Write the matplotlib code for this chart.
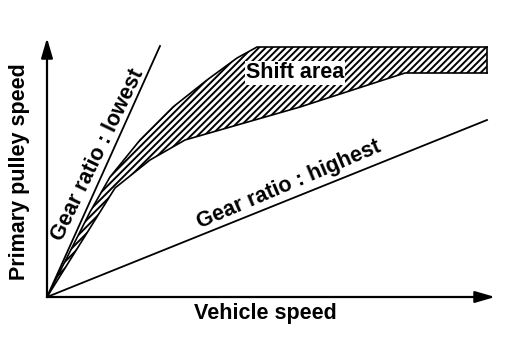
import matplotlib
matplotlib.use("Agg")
import numpy as np
from matplotlib import pyplot as plt

# Shift diagram of a CVT: primary pulley speed against vehicle speed
# (arbitrary units, origin at the bottom left corner)
lowest_v = [0, 113]
lowest_p = [0, 251]
highest_v = [0, 440]
highest_p = [0, 177]

# boundaries of the shift area
upper_v = [0, 43, 63, 93, 126, 160, 190, 210, 440]
upper_p = [0, 85, 120, 157, 190, 217, 239, 250, 250]
lower_v = [0, 68, 103, 138, 253, 358, 440]
lower_p = [0, 109, 137, 157, 190, 224, 224]

x_axis_end = 448
y_axis_end = 259

plt.rcParams['font.family'] = ['Liberation Sans', 'DejaVu Sans']
plt.rcParams['hatch.linewidth'] = 1.4

fig = plt.figure(figsize=(5.12, 3.64), dpi=100)
ax = fig.add_axes([0, 0, 1, 1])
ax.set_xlim(-47, 465)
ax.set_ylim(-67, 297)
ax.axis('off')

# shift area polygon
poly_v = upper_v + lower_v[::-1]
poly_p = upper_p + lower_p[::-1]
ax.fill(poly_v, poly_p, facecolor='white', edgecolor='black', hatch='/////', linewidth=0)
ax.plot(upper_v, upper_p, color='black', lw=1.2)
ax.plot(lower_v, lower_p, color='black', lw=1.2)
ax.plot([upper_v[-1], lower_v[-1]], [upper_p[-1], lower_p[-1]], color='black', lw=1.2)

ax.plot(lowest_v, lowest_p, color='black', lw=1.3)
ax.plot(highest_v, highest_p, color='black', lw=1.3)

# axes with arrow heads
arrow = dict(arrowstyle='-|>,head_length=1.2,head_width=0.35', color='black', lw=1.6,
             shrinkA=0, shrinkB=0)
ax.annotate('', xy=(0, y_axis_end), xytext=(0, 0), arrowprops=arrow)
ax.annotate('', xy=(x_axis_end, 0), xytext=(0, 0), arrowprops=arrow)

fs = 15.5
fw = 'bold'
ax.text(218, -17, 'Vehicle speed', fontsize=fs, weight=fw, ha='center', va='center')
ax.text(-27, 125, 'Primary pulley speed', fontsize=fs, weight=fw, ha='center', va='center',
        rotation=90)

ang_low = np.degrees(np.arctan2(251 * 1.0, 113))
ax.text(51, 142, 'Gear ratio : lowest', fontsize=fs, weight=fw, ha='center', va='center',
        rotation=ang_low - 1.5)
ax.text(242, 112, 'Gear ratio : highest', fontsize=fs, weight=fw, ha='center', va='center',
        rotation=23)

ax.text(248, 224, 'Shift area', fontsize=fs, weight=fw, ha='center', va='center',
        bbox=dict(facecolor='white', edgecolor='none', pad=1))

fig.savefig('out.png', dpi=100)
